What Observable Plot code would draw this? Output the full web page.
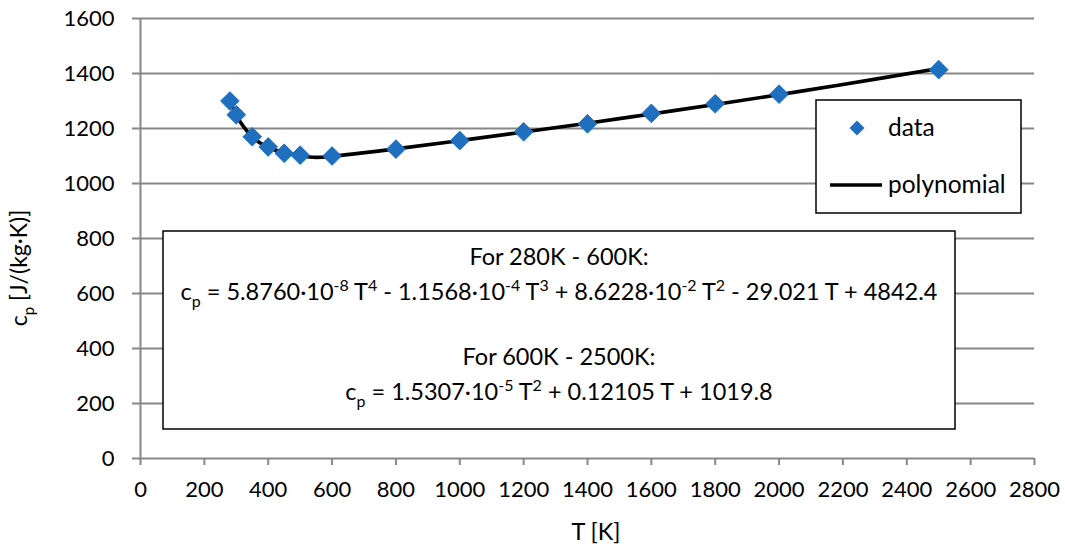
<!DOCTYPE html>
<html><head><meta charset="utf-8">
<script src="https://cdn.jsdelivr.net/npm/d3@7"></script>
<script src="https://cdn.jsdelivr.net/npm/@observablehq/plot@0.6"></script>
<style>body{margin:0;background:#fff} #chart{width:1065px;height:546px}</style>
</head><body><div id="chart"></div>
<script>
// measured data points
const dataT  = [280, 300, 350, 400, 450, 500, 600, 800, 1000, 1200, 1400, 1600, 1800, 2000, 2500];
const dataCp = [1300, 1250, 1170, 1133, 1110, 1103, 1100, 1125, 1156, 1188, 1217, 1255, 1290, 1325, 1414];
// polynomial fit curve
const polyT  = [280, 300, 325, 350, 375, 400, 450, 500, 550, 600, 800, 1000, 1200, 1400, 1600, 1800, 2000, 2200, 2500];
const polyCp = [1299, 1249, 1203, 1170, 1147, 1131, 1112, 1101, 1095, 1099, 1126, 1156, 1187, 1219, 1253, 1287, 1323, 1360, 1418];
const xTicks = [0, 200, 400, 600, 800, 1000, 1200, 1400, 1600, 1800, 2000, 2200, 2400, 2600, 2800];
const yTicks = [0, 200, 400, 600, 800, 1000, 1200, 1400, 1600];
const legendLabels = ["data", "polynomial"];

const FONT = "Lato, 'Liberation Sans', sans-serif";
const GRAY = "#878787";
const BLUE = "#1F6FBF";

const points = dataT.map((t, i) => ({T: t, cp: dataCp[i]}));
const curve = polyT.map((t, i) => ({T: t, cp: polyCp[i]}));

const svgEl = Plot.plot({
  width: 1065, height: 546,
  marginLeft: 140, marginRight: 31, marginTop: 18, marginBottom: 88,
  style: {fontFamily: FONT, fontSize: "22px", color: "#000", background: "#fff"},
  x: {domain: [0, 2800]},
  y: {domain: [0, 1600]},
  marks: [
    Plot.gridY(yTicks, {stroke: GRAY, strokeOpacity: 1, strokeWidth: 2}),
    Plot.ruleX([0], {stroke: GRAY, strokeWidth: 2}),
    Plot.axisX(xTicks, {tickSize: 7, tickPadding: 16, stroke: GRAY, strokeWidth: 2, fill: "#000", label: null, tickFormat: d => String(d)}),
    Plot.axisY(yTicks, {tickSize: 8, tickPadding: 18, stroke: GRAY, strokeWidth: 2, fill: "#000", label: null, tickFormat: d => String(d)}),
    Plot.line(curve, {x: "T", y: "cp", stroke: "#000", strokeWidth: 3.6, curve: "catmull-rom"}),
    Plot.dot(points, {x: "T", y: "cp", symbol: "diamond2", r: 8.4, fill: BLUE, stroke: BLUE, strokeWidth: 1})
  ]
});
document.getElementById("chart").appendChild(svgEl);

const svg = d3.select(svgEl);

function rich(g, x, y, parts, anchor, size, supScale = 0.65) {
  const t = g.append("text").attr("x", x).attr("y", y)
    .attr("text-anchor", anchor).attr("font-family", FONT)
    .attr("font-size", size).attr("fill", "#000");
  let shift = 0;
  parts.forEach(([s, mode]) => {
    let target = mode === "sup" ? -0.4 * size : mode === "sub" ? 0.3 * size : 0;
    t.append("tspan").attr("dy", target - shift)
      .attr("font-size", mode ? size * supScale : size).text(s);
    shift = target;
  });
  return t;
}

// axis titles
rich(svg, 596, 540, [["T [K]"]], "middle", 23.5);
const yl = svg.append("g").attr("transform", "translate(27,268) rotate(-90)");
rich(yl, 0, 0, [["c"], ["p", "sub"], [" [J/(kg·K)]"]], "middle", 23);

// equation box
svg.append("rect").attr("x", 163).attr("y", 231).attr("width", 792).attr("height", 198)
  .attr("fill", "#fff").attr("stroke", "#000").attr("stroke-width", 1.5);
const cx = 559;
rich(svg, cx, 265, [["For 280K - 600K:"]], "middle", 23.5, 0.68);
rich(svg, cx, 300, [["c"], ["p", "sub"], [" = 5.8760·10"], ["-8", "sup"], [" T"], ["4", "sup"],
  [" - 1.1568·10"], ["-4", "sup"], [" T"], ["3", "sup"], [" + 8.6228·10"], ["-2", "sup"],
  [" T"], ["2", "sup"], [" - 29.021 T + 4842.4"]], "middle", 23.5, 0.68);
rich(svg, cx, 365, [["For 600K - 2500K:"]], "middle", 23.5, 0.68);
rich(svg, cx, 400, [["c"], ["p", "sub"], [" = 1.5307·10"], ["-5", "sup"], [" T"], ["2", "sup"],
  [" + 0.12105 T + 1019.8"]], "middle", 23.5, 0.68);

// legend
svg.append("rect").attr("x", 816).attr("y", 100).attr("width", 205).attr("height", 113)
  .attr("fill", "#fff").attr("stroke", "#000").attr("stroke-width", 1.5);
svg.append("path").attr("d", d3.symbol(d3.symbolDiamond2, 144)()).attr("transform", "translate(857,128)").attr("fill", BLUE);
svg.append("line").attr("x1", 830).attr("x2", 882).attr("y1", 185).attr("y2", 185)
  .attr("stroke", "#000").attr("stroke-width", 3.6);
rich(svg, 888, 136, [[legendLabels[0]]], "start", 24.5);
rich(svg, 888, 193, [[legendLabels[1]]], "start", 24.5);
</script></body></html>
